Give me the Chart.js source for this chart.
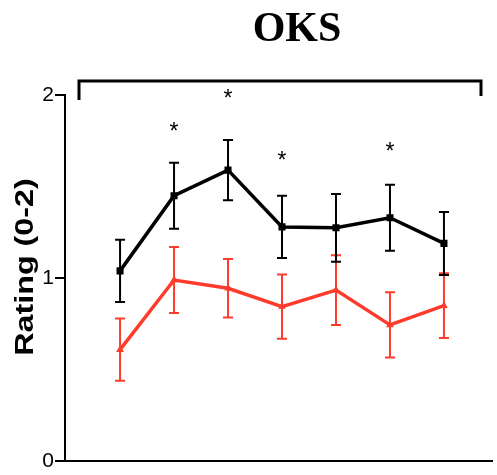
<!DOCTYPE html>
<html>
<head>
<meta charset="utf-8">
<script src="https://cdn.jsdelivr.net/npm/chart.js@4.4.0/dist/chart.umd.min.js"></script>
<style>
  html, body { margin: 0; padding: 0; background: #fff; }
  #wrap { width: 497px; height: 475px; position: relative; }
</style>
</head>
<body>
<div id="wrap"><canvas id="grafico"></canvas></div>
<script>
// --- Datos ---
const puntos = [0, 1, 2, 3, 4, 5, 6];
const mediaNegra = [1.04, 1.45, 1.59, 1.28, 1.275, 1.33, 1.19];
const errorNegra = [0.17, 0.18, 0.165, 0.17, 0.185, 0.18, 0.172];
const mediaRoja = [0.61, 0.99, 0.945, 0.845, 0.935, 0.745, 0.85];
const errorRoja = [0.17, 0.18, 0.16, 0.175, 0.19, 0.178, 0.177];
const asteriscos = [null, 1.83, 2.01, 1.67, null, 1.72, null];
const ticksY = [0, 1, 2];
const titulo = "OKS";
const tituloY = "Rating (0-2)";

const ROJO = "#ff3b2c";

// --- Plugin: barras de error, asteriscos, corchete y textos ---
const extras = {
  id: "extras",
  beforeDatasetsDraw(chart) {
    const { ctx, scales: { x, y } } = chart;
    ctx.save();
    chart.data.datasets.forEach(ds => {
      ctx.strokeStyle = ds.borderColor;
      ctx.lineWidth = 2;
      ds.data.forEach((p, i) => {
        const e = ds.errores[i];
        const px = x.getPixelForValue(p.x);
        const top = y.getPixelForValue(p.y + e);
        const bot = y.getPixelForValue(p.y - e);
        ctx.beginPath();
        ctx.moveTo(px, top); ctx.lineTo(px, bot);
        ctx.moveTo(px - 5, top); ctx.lineTo(px + 5, top);
        ctx.moveTo(px - 5, bot); ctx.lineTo(px + 5, bot);
        ctx.stroke();
      });
    });
    ctx.restore();
  },
  afterDraw(chart) {
    const { ctx, scales: { x, y } } = chart;
    ctx.save();
    // asteriscos
    ctx.fillStyle = "#000";
    ctx.font = "23px 'Liberation Sans', Arial, sans-serif";
    ctx.textAlign = "center";
    ctx.textBaseline = "alphabetic";
    asteriscos.forEach((v, i) => {
      if (v === null) return;
      ctx.fillText("*", x.getPixelForValue(puntos[i]), y.getPixelForValue(v) + 13);
    });
    // corchete superior
    ctx.strokeStyle = "#000";
    ctx.lineWidth = 3;
    ctx.beginPath();
    ctx.moveTo(79, 100);
    ctx.lineTo(79, 81);
    ctx.lineTo(481, 81);
    ctx.lineTo(481, 96);
    ctx.stroke();
    // título
    ctx.font = "bold 42px 'Liberation Serif', 'Times New Roman', serif";
    ctx.textBaseline = "alphabetic";
    ctx.fillText(titulo, 297, 41);
    // título eje Y
    ctx.translate(26, 267);
    ctx.rotate(-Math.PI / 2);
    ctx.scale(1.24, 1);
    ctx.font = "bold 26px 'Liberation Sans', Arial, sans-serif";
    ctx.textBaseline = "middle";
    ctx.fillText(tituloY, 0, 0);
    ctx.restore();
  }
};

new Chart(document.getElementById("grafico"), {
  type: "line",
  data: {
    datasets: [
      {
        data: puntos.map((p, i) => ({ x: p, y: mediaRoja[i] })),
        errores: errorRoja,
        borderColor: ROJO,
        backgroundColor: ROJO,
        borderWidth: 3.5,
        pointStyle: "triangle",
        pointRadius: 4.5,
        pointBorderWidth: 0,
        tension: 0
      },
      {
        data: puntos.map((p, i) => ({ x: p, y: mediaNegra[i] })),
        errores: errorNegra,
        borderColor: "#000",
        backgroundColor: "#000",
        borderWidth: 3.5,
        pointStyle: "rect",
        pointRadius: 5,
        pointBorderWidth: 0,
        tension: 0
      }
    ]
  },
  options: {
    responsive: true,
    maintainAspectRatio: false,
    animation: false,
    layout: { padding: { top: 95, bottom: 12, left: 0, right: 0 } },
    plugins: { legend: { display: false }, tooltip: { enabled: false } },
    scales: {
      x: {
        type: "linear",
        min: -1.02,
        max: 6.89,
        ticks: { display: false },
        grid: { drawOnChartArea: false, drawTicks: false },
        border: { color: "#000", width: 2 },
        afterFit: s => { s.height = 0; }
      },
      y: {
        min: 0,
        max: 2,
        afterBuildTicks: s => { s.ticks = ticksY.map(v => ({ value: v })); },
        ticks: {
          color: "#000",
          padding: 1,
          font: { family: "'Liberation Sans', Arial, sans-serif", size: 21 }
        },
        grid: { drawOnChartArea: false, drawTicks: true, tickLength: 10, color: "#000", lineWidth: 2 },
        border: { color: "#000", width: 2 },
        afterFit: s => { s.width = 65; }
      }
    }
  },
  plugins: [extras]
});
</script>
</body>
</html>
